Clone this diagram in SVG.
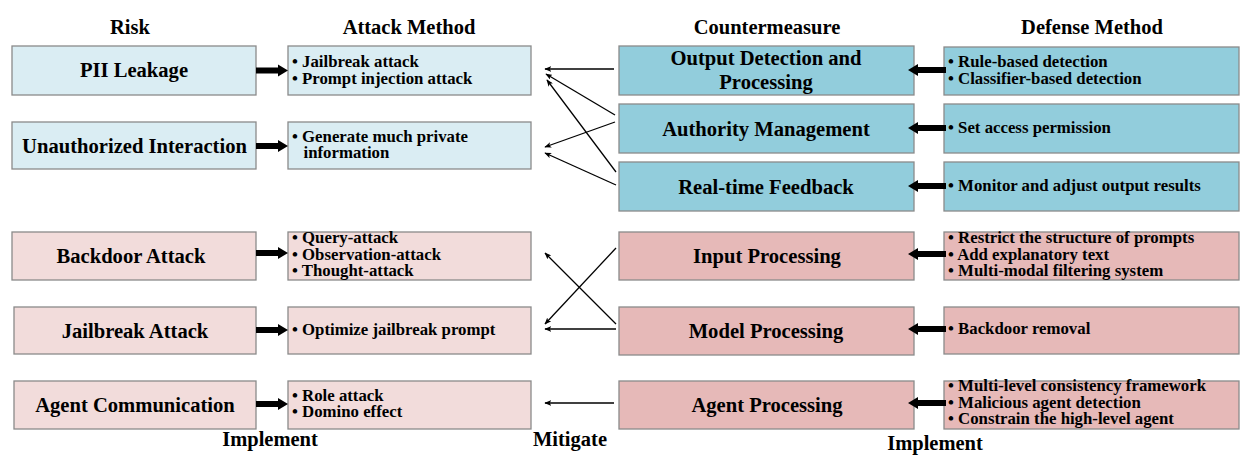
<svg xmlns="http://www.w3.org/2000/svg" width="1252" height="469" viewBox="0 0 1252 469">
<style>
text{font-family:"Liberation Serif","Times New Roman",serif;font-weight:bold;fill:#000}
.h{font-size:20.5px;text-anchor:middle}
.big{font-size:20.6px;text-anchor:middle}
.sm{font-size:16.8px}
.lb{fill:#daedf3;stroke:#8a8a8a;stroke-width:1.3}
.db{fill:#92cddc;stroke:#8a8a8a;stroke-width:1.3}
.lp{fill:#f2dcdb;stroke:#8a8a8a;stroke-width:1.3}
.dp{fill:#e6b9b8;stroke:#8a8a8a;stroke-width:1.3}
.thin{stroke:#000;stroke-width:1.3;fill:none;marker-end:url(#ah)}
.thick{fill:#000}
</style>
<defs>
<marker id="ah" viewBox="0 0 10 8" refX="9" refY="4" markerWidth="7" markerHeight="5.6" markerUnits="userSpaceOnUse" orient="auto">
<path d="M0,0 L10,4 L0,8 L2.5,4 z" fill="#000"/>
</marker>
</defs>
<g id="headers">
<text class="h" x="130" y="34">Risk</text>
<text class="h" x="409" y="34">Attack Method</text>
<text class="h" x="767" y="34">Countermeasure</text>
<text class="h" x="1092" y="34">Defense Method</text>
<text class="h" x="270" y="446">Implement</text>
<text class="h" x="570" y="446">Mitigate</text>
<text class="h" x="935" y="450">Implement</text>
</g>
<g id="risk-pii"><rect class="lb" x="12" y="46" width="244" height="49"/><text class="big" x="134" y="77">PII Leakage</text></g>
<g id="risk-unauth"><rect class="lb" x="12" y="122" width="244" height="47"/><text class="big" x="134.5" y="152.5">Unauthorized Interaction</text></g>
<g id="risk-backdoor"><rect class="lp" x="12" y="232" width="244" height="48"/><text class="big" x="131" y="263">Backdoor Attack</text></g>
<g id="risk-jailbreak"><rect class="lp" x="14" y="307" width="242" height="47"/><text class="big" x="135" y="337.5">Jailbreak Attack</text></g>
<g id="risk-agent"><rect class="lp" x="14" y="381" width="242" height="48"/><text class="big" x="135" y="412">Agent Communication</text></g>

<g id="attack-1"><rect class="lb" x="288" y="46" width="243" height="49"/><text class="sm" x="292" y="67">• Jailbreak attack</text><text class="sm" x="292" y="83.5">• Prompt injection attack</text></g>
<g id="attack-2"><rect class="lb" x="288" y="122" width="243" height="47"/><text class="sm" x="292" y="141.5">• Generate much private</text><text class="sm" x="303.5" y="158">information</text></g>
<g id="attack-3"><rect class="lp" x="288" y="232" width="243" height="48"/><text class="sm" x="292" y="243">• Query-attack</text><text class="sm" x="292" y="259.5">• Observation-attack</text><text class="sm" x="292" y="276">• Thought-attack</text></g>
<g id="attack-4"><rect class="lp" x="288" y="307" width="243" height="47"/><text class="sm" x="292" y="335">• Optimize jailbreak prompt</text></g>
<g id="attack-5"><rect class="lp" x="288" y="381" width="243" height="48"/><text class="sm" x="292" y="400.5">• Role attack</text><text class="sm" x="292" y="417">• Domino effect</text></g>

<g id="cm-output"><rect class="db" x="619" y="46" width="295" height="49"/><text class="big" x="766" y="65">Output Detection and</text><text class="big" x="766" y="89">Processing</text></g>
<g id="cm-authority"><rect class="db" x="619" y="104" width="295" height="49"/><text class="big" x="766" y="135.5">Authority Management</text></g>
<g id="cm-realtime"><rect class="db" x="619" y="162" width="295" height="49"/><text class="big" x="766" y="193.5">Real-time Feedback</text></g>
<g id="cm-input"><rect class="dp" x="619" y="232" width="295" height="48"/><text class="big" x="767" y="263">Input Processing</text></g>
<g id="cm-model"><rect class="dp" x="619" y="307" width="295" height="48"/><text class="big" x="766" y="338">Model Processing</text></g>
<g id="cm-agent"><rect class="dp" x="619" y="381" width="295" height="48"/><text class="big" x="767" y="412">Agent Processing</text></g>

<g id="def-1"><rect class="db" x="944" y="47" width="295" height="48"/><text class="sm" x="948" y="67">• Rule-based detection</text><text class="sm" x="948" y="83.5">• Classifier-based detection</text></g>
<g id="def-2"><rect class="db" x="944" y="104" width="295" height="49"/><text class="sm" x="948" y="133">• Set access permission</text></g>
<g id="def-3"><rect class="db" x="944" y="162" width="295" height="49"/><text class="sm" x="948" y="191">• Monitor and adjust output results</text></g>
<g id="def-4"><rect class="dp" x="944" y="232" width="295" height="48"/><text class="sm" x="948" y="243">• Restrict the structure of prompts</text><text class="sm" x="948" y="259.5">• Add explanatory text</text><text class="sm" x="948" y="276">• Multi-modal filtering system</text></g>
<g id="def-5"><rect class="dp" x="944" y="307" width="295" height="47"/><text class="sm" x="948" y="334">• Backdoor removal</text></g>
<g id="def-6"><rect class="dp" x="944" y="381" width="295" height="48"/><text class="sm" x="948" y="391">• Multi-level consistency framework</text><text class="sm" x="948" y="407.5">• Malicious agent detection</text><text class="sm" x="948" y="424">• Constrain the high-level agent</text></g>

<g id="connectors">
<polygon class="thick" points="256,67.5 278,67.5 278,64.5 288,70.5 278,76.5 278,73.5 256,73.5"/>
<polygon class="thick" points="256,143 278,143 278,140 288,146 278,152 278,149 256,149"/>
<polygon class="thick" points="256,250 278,250 278,247 288,253 278,259 278,256 256,256"/>
<polygon class="thick" points="256,327 278,327 278,324 288,330 278,336 278,333 256,333"/>
<polygon class="thick" points="256,401 278,401 278,398 288,404 278,410 278,407 256,407"/>

<polygon class="thick" points="946,67 918,67 918,64 908,70 918,76 918,73 946,73"/>
<polygon class="thick" points="946,125 918,125 918,122 908,128 918,134 918,131 946,131"/>
<polygon class="thick" points="946,183 918,183 918,180 908,186 918,192 918,189 946,189"/>
<polygon class="thick" points="946,251 918,251 918,248 908,254 918,260 918,257 946,257"/>
<polygon class="thick" points="946,326 918,326 918,323 908,329 918,335 918,332 946,332"/>
<polygon class="thick" points="946,400 918,400 918,397 908,403 918,409 918,406 946,406"/>

<line class="thin" x1="614" y1="69" x2="545" y2="69"/>
<line class="thin" x1="615" y1="115" x2="546" y2="74"/>
<line class="thin" x1="615" y1="122" x2="545" y2="147"/>
<line class="thin" x1="616" y1="172" x2="547" y2="80"/>
<line class="thin" x1="616" y1="185" x2="545" y2="153"/>

<line class="thin" x1="616" y1="248" x2="545" y2="324"/>
<line class="thin" x1="616" y1="324" x2="545" y2="253"/>
<line class="thin" x1="616" y1="329" x2="545" y2="329"/>
<line class="thin" x1="614" y1="403" x2="545" y2="403"/>
</g>
</svg>
